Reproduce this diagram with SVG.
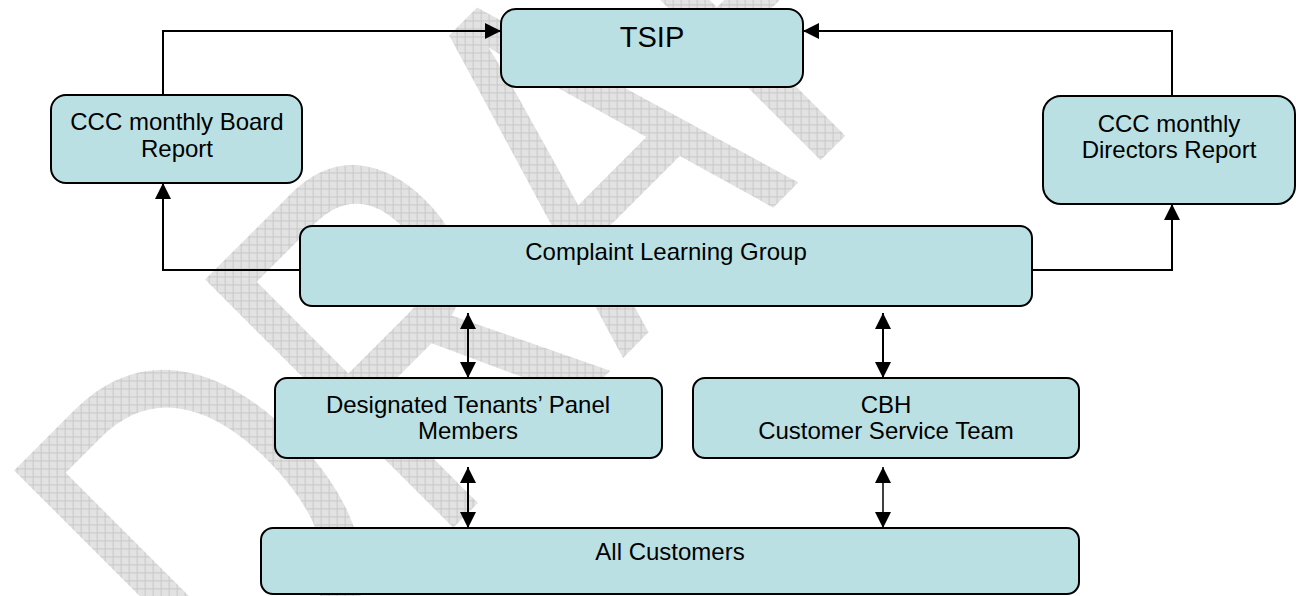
<svg xmlns="http://www.w3.org/2000/svg" width="1296" height="596" viewBox="0 0 1296 596">
<style>
.node rect{fill:#bbe0e3;stroke:#000;stroke-width:2}
.node text{font-family:"Liberation Sans",Arial,sans-serif;font-size:24px;fill:#000;text-anchor:middle}
.conn{fill:none;stroke:#000;stroke-width:2}
.wm{font-family:"Liberation Sans",Arial,sans-serif;font-size:374px;font-kerning:none;fill:url(#grid)}
</style>
<defs>
<pattern id="grid" patternUnits="userSpaceOnUse" width="8" height="8" patternTransform="scale(1,0.733) rotate(45)">
<rect width="8" height="8" fill="#e2e2e2"/>
<path d="M0,0.5H8M0.5,0V8" stroke="#c8c8c8" stroke-width="1"/>
</pattern>
<marker id="ah" markerUnits="userSpaceOnUse" markerWidth="16" markerHeight="16" refX="15" refY="7.5" orient="auto-start-reverse" viewBox="0 0 15 15">
<path d="M0,0L15,7.5L0,15z" fill="#000"/>
</marker>
</defs>
<rect width="1296" height="596" fill="#fff"/>
<g id="watermark">
<text class="wm" transform="translate(240.6,740.4) rotate(-45) scale(1,1.364)">DRAFT</text>
</g>
<g id="connectors">
<path class="conn" d="M163,95V31H501" marker-end="url(#ah)"/>
<path class="conn" d="M1172,96V31H803" marker-end="url(#ah)"/>
<path class="conn" d="M300,270H163V183" marker-end="url(#ah)"/>
<path class="conn" d="M1028,270H1172V204" marker-end="url(#ah)"/>
<path class="conn" d="M468,313V378" marker-start="url(#ah)" marker-end="url(#ah)"/>
<path class="conn" d="M883,313V378" marker-start="url(#ah)" marker-end="url(#ah)"/>
<path class="conn" d="M468,467V528" marker-start="url(#ah)" marker-end="url(#ah)"/>
<path class="conn" d="M883,467V528" style="stroke-width:1.5" marker-start="url(#ah)" marker-end="url(#ah)"/>
</g>
<g id="tsip" class="node">
<rect x="501" y="9" width="302" height="78" rx="15"/>
<text x="652" y="47" style="font-size:29px">TSIP</text>
</g>
<g id="board" class="node">
<rect x="51" y="95" width="251" height="88" rx="15"/>
<text x="177" y="130">CCC monthly Board</text>
<text x="177" y="157">Report</text>
</g>
<g id="directors" class="node">
<rect x="1043" y="96" width="252" height="108" rx="18"/>
<text x="1169" y="132">CCC monthly</text>
<text x="1169" y="158">Directors Report</text>
</g>
<g id="clg" class="node">
<rect x="300" y="226" width="732" height="80" rx="12"/>
<text x="666" y="260">Complaint Learning Group</text>
</g>
<g id="dtpm" class="node">
<rect x="275" y="378" width="387" height="80" rx="12"/>
<text x="468" y="413">Designated Tenants’ Panel</text>
<text x="468" y="439">Members</text>
</g>
<g id="cbh" class="node">
<rect x="693" y="378" width="386" height="80" rx="12"/>
<text x="886" y="413">CBH</text>
<text x="886" y="439">Customer Service Team</text>
</g>
<g id="all" class="node">
<rect x="261" y="528" width="818" height="66" rx="12"/>
<text x="670" y="560">All Customers</text>
</g>
</svg>
